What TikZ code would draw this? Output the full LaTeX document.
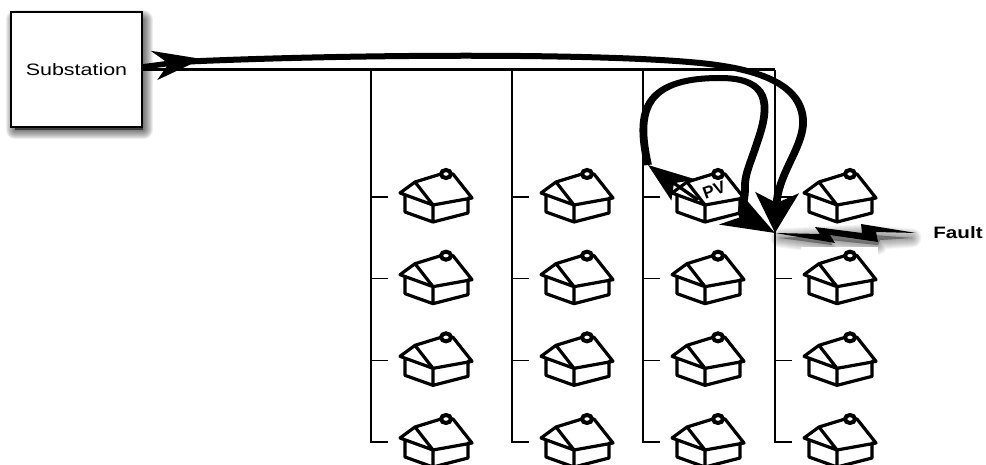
\documentclass[tikz,border=0pt]{standalone}
\usepackage{fontspec}
\setmainfont{Liberation Sans}
\usepackage{xcolor}
\usepackage{tikz}
\usetikzlibrary{positioning,arrows.meta}
\tikzset{
  stationbox/.style={draw, line width=1.6pt, fill=white, minimum width=131pt, minimum height=115pt, align=center, font=\fontsize{16.5}{18}\selectfont},
  feeder/.style={draw, line width=1.4pt},
  busbar/.style={draw, line width=3pt},
  flowmain/.style={line width=6pt, line cap=butt},
  bighead/.style n args={3}{-{Stealth[quick,length=#1,width=#2,inset=#3]}},
  stretched/.style={transform canvas={xscale=1.3}, x=0.76923pt},
  house/.pic={
    \draw[line width=3.2pt, line join=round, line cap=round]
      (-33,-12) -- (-18,-23) -- (8,-31) -- (20,-31) -- (39,-7) -- (0,0) -- (-18,-23)
      (-33,-12) -- (0,0) -- (0,17) -- (35,8) -- (35,-7)
      (-28,-9) -- (-28,7) -- (0,17);
    \draw[line width=4pt, fill=white] (13,-31) ellipse (5 and 4);
    \coordinate (-in) at (-45,-8);
  }
}
\begin{document}
\begin{tikzpicture}[x=1pt,y=-1pt]
  \useasboundingbox (0,0) rectangle (986,465);

  % soft shadows
  \foreach \w in {1,3,...,19} {
    \fill[black, opacity=.07, draw=black, line width=\w pt, line join=round]
      (15,20) rectangle (143,130);
    \fill[black, opacity=.045, draw=black, line width=\w pt, line join=round]
      (780,238) -- (832,245) -- (830,240) -- (878,245) -- (880,240) -- (912,238) -- (860,234) -- (818,236) -- cycle;
  }
  \fill[white] (801,247) rectangle (878,268);
  \fill[white] (790,205) rectangle (900,224);

  \node[stationbox] (station) at (76.5,69.5) {\scalebox{1.3}[1]{Substation}};

  \coordinate (busstart) at (station.east |- 0,70);
  \coordinate (bus1) at (371,70);
  \coordinate (bus2) at (512,70);
  \coordinate (bus3) at (643,70);
  \coordinate (bus4) at (775,70);
  \coordinate (fault) at (775,233);

  \draw[busbar] (busstart) -- (bus4);

  \foreach \col/\xf in {1/371,2/512,3/643,4/775} {
    \foreach \row in {1,2,3,4} {
      \pic (h\col\row) at ({\xf+62},{205+81.67*(\row-1)}) {house};
      \coordinate (s\col\row) at ({\xf},{197+81.67*(\row-1)});
      \ifnum\row<4
        \draw[feeder] (s\col\row) -- (h\col\row-in);
      \fi
    }
    \draw[feeder] (bus\col) |- (h\col4-in);
  }

  % fault bolt
  \fill[black] (fault) -- (835,243) -- (830,235) -- (878,242) -- (876,232) -- (916,233)
    -- (861,224) -- (862,233) -- (815,227) -- (820,234) -- cycle;
  \node[font=\fontsize{16.5}{18}\selectfont\bfseries] (faultlabel) at (958,233) {\scalebox{1.25}[1]{Fault}};

  \node[rotate=20, font=\fontsize{17}{18}\selectfont\bfseries] (pv) at (714,190) {PV};

  \begin{scope}[stretched]
    \coordinate (substart) at (142,67);
    \coordinate (headsub) at (202,59);
    \coordinate (linesub) at (178,62);
    \coordinate (faultend) at (775,233);
    \coordinate (pvroof) at (698,200);
    \coordinate (headpv) at (648,165);

    % current from the substation
    \draw[line width=5.5pt, bighead={37pt}{29pt}{11pt}] (substart) -- (headsub);
    \draw[flowmain, bighead={40pt}{33pt}{10pt}] (linesub) .. controls (350,54) and (600,53) .. (700,63)
      .. controls (760,69) and (805,85) .. (803,125)
      .. controls (801,150) and (778,175) .. (faultend);

    % current from the PV
    \draw[line width=3pt, bighead={37pt}{28pt}{10pt}] (pvroof) -- (headpv);
    \draw[flowmain, bighead={40pt}{33pt}{10pt}] (headpv) .. controls (637,115) and (640,78) .. (720,78)
      .. controls (770,78) and (770,105) .. (758,140)
      .. controls (750,165) and (744,175) .. (745,190)
      .. controls (745,203) and (738,214) .. (faultend);
  \end{scope}
\end{tikzpicture}
\end{document}
